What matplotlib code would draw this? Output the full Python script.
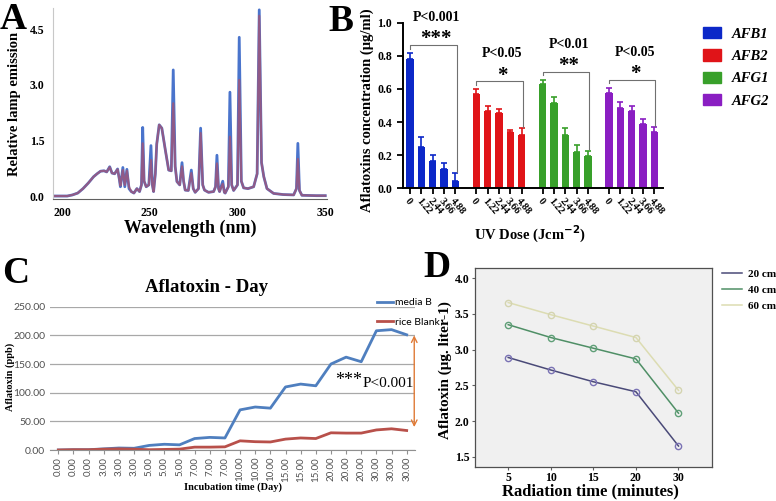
import matplotlib.pyplot as plt
from matplotlib.patches import Patch
from matplotlib.lines import Line2D

SERIF = 'Liberation Serif'
SANS = 'Lato'

# ---- A: lamp spectrum ----
wavelength = [195, 203, 206, 209, 212, 215, 218, 220, 222, 224, 225.5, 227.2, 228.5, 230,
              231.7, 232.7, 233.3, 234.7, 235.8, 237.0, 238.2, 239.5, 241, 242.7, 244.2,
              245.3, 246.0, 246.8, 248, 249.5, 250.7, 251.5, 252.2, 253.2, 254.0, 255.4,
              256.9, 258.9, 260.8, 262.3, 263.4, 264.5, 265.5, 267.1, 268.4, 269.3, 270.2,
              272, 273.7, 274.8, 275.9, 277.8, 279.0, 280.2, 281.2, 283.5, 286.4, 287.5,
              288.3, 289.2, 289.8, 291.6, 292.5, 293.0, 294.8, 295.7, 296.7, 297.8, 300.0,
              301.0, 302.2, 303.5, 306, 309.2, 311.2, 312.4, 313.7, 315, 316.8, 320.6, 326,
              332, 333.6, 334.4, 335.3, 336.7, 345, 350]
emission_red = [0.0, 0.0, 0.03, 0.08, 0.2, 0.35, 0.52, 0.6, 0.67, 0.68, 0.65, 0.78, 0.62, 0.6,
                0.72, 0.45, 0.28, 0.7, 0.3, 0.68, 0.25, 0.12, 0.08, 0.2, 0.12,
                0.3, 1.42, 0.4, 0.25, 0.3, 0.97, 0.3, 0.12, 0.6, 1.4, 1.92,
                1.83, 1.24, 0.7, 0.68, 2.5, 0.8, 0.39, 0.3, 0.8, 0.4, 0.16,
                0.15, 0.62, 0.2, 0.1, 0.2, 1.7, 0.3, 0.16, 0.1, 0.12, 0.25,
                0.88, 0.2, 0.12, 0.33, 0.1, 0.08, 0.25, 1.6, 0.3, 0.15, 0.3,
                3.13, 0.4, 0.22, 0.2, 0.25, 0.6, 4.86, 0.9, 0.52, 0.2, 0.07, 0.04,
                0.03, 0.2, 1.0, 0.15, 0.02, 0.01, 0.01]
emission_blue = [0.0, 0.0, 0.03, 0.08, 0.2, 0.35, 0.52, 0.6, 0.67, 0.68, 0.65, 0.79, 0.62, 0.6,
                 0.73, 0.45, 0.25, 0.77, 0.25, 0.72, 0.2, 0.12, 0.08, 0.2, 0.12,
                 0.3, 1.85, 0.4, 0.25, 0.3, 1.36, 0.3, 0.12, 0.6, 1.4, 1.92,
                 1.83, 1.24, 0.7, 0.68, 3.4, 0.8, 0.39, 0.3, 0.9, 0.4, 0.16,
                 0.15, 0.7, 0.2, 0.1, 0.2, 1.83, 0.3, 0.16, 0.1, 0.12, 0.25,
                 1.1, 0.2, 0.12, 0.4, 0.1, 0.08, 0.25, 2.8, 0.3, 0.15, 0.3,
                 4.28, 0.4, 0.22, 0.2, 0.25, 0.6, 5.02, 0.9, 0.52, 0.2, 0.07, 0.04,
                 0.03, 0.2, 1.42, 0.15, 0.02, 0.01, 0.01]

# ---- B: aflatoxin vs UV dose ----
uv_dose = ['0', '1.22', '2.44', '3.66', '4.88']
toxins = ['AFB1', 'AFB2', 'AFG1', 'AFG2']
toxin_colors = ['#0c28c8', '#e01418', '#38a02a', '#8a1ec2']
conc_mean = [[0.778, 0.247, 0.165, 0.115, 0.046],
             [0.567, 0.466, 0.452, 0.338, 0.322],
             [0.629, 0.513, 0.322, 0.221, 0.197],
             [0.577, 0.487, 0.468, 0.388, 0.342]]
conc_err = [[0.042, 0.061, 0.034, 0.036, 0.044],
            [0.030, 0.030, 0.026, 0.014, 0.040],
            [0.028, 0.036, 0.040, 0.038, 0.030],
            [0.030, 0.034, 0.028, 0.030, 0.026]]
p_labels = ['P<0.001', 'P<0.05', 'P<0.01', 'P<0.05']
stars = ['***', '*', '**', '*']
bracket_y = [0.864, 0.645, 0.703, 0.653]

# ---- C: aflatoxin per day ----
day_labels = ['0.00'] * 3 + ['3.00'] * 3 + ['5.00'] * 3 + ['7.00'] * 3 + \
             ['10.00'] * 3 + ['15.00'] * 3 + ['20.00'] * 3 + ['30.00'] * 3
media_b = [0, 0.5, 0.5, 2, 3.5, 3, 8, 10, 9, 20, 22, 21, 70, 75, 73, 110, 115, 112,
           150, 162, 154, 208, 210, 201]
rice_blank = [0, 0.5, 0.5, 1.5, 2, 1.5, 0.5, 1, 1.5, 5, 5, 5.5, 16, 14.5, 14, 19, 21, 20,
              30, 29.5, 29.5, 35, 37, 34]

# ---- D: aflatoxin vs radiation time ----
rad_time = ['5', '10', '15', '20', '30']
distances = ['20 cm', '40 cm', '60 cm']
dist_colors = ['#4a4a78', '#4f8f66', '#dcdcb2']
marker_colors = ['#7a72b4', '#5f9f77', '#d4d4b0']
aflatoxin_d = [[2.89, 2.715, 2.55, 2.41, 1.65],
               [3.35, 3.17, 3.02, 2.87, 2.11],
               [3.66, 3.49, 3.33, 3.17, 2.43]]

W, H = 776, 501
fig = plt.figure(figsize=(W / 100, H / 100), dpi=100)


def box(x0, y0, x1, y1):
    # pixel box (top-left origin) -> figure fraction
    return [x0 / W, 1 - y1 / H, (x1 - x0) / W, (y1 - y0) / H]


def place_labels(ax, xl, yl):
    ax.xaxis.set_label_coords(*xl)
    ax.yaxis.set_label_coords(*yl)
    ax.xaxis.label.set_va('center')
    ax.yaxis.label.set_va('center')


bold = dict(family=SERIF, fontweight='bold')

# ===== Panel A =====
axA = fig.add_axes(box(53, 8, 327, 199))
axA.plot(wavelength, emission_blue, color='#4a74cc', lw=2.0)
axA.plot(wavelength, emission_red, color='#c04a5a', lw=1.6, alpha=0.6)
axA.set_xlim(194.9, 351)
axA.set_ylim(-0.08, 5.07)
axA.set_xticks([200, 250, 300, 350])
axA.set_yticks([0, 1.5, 3.0, 4.5])
axA.set_yticklabels(['0.0', '1.5', '3.0', '4.5'])
axA.tick_params(length=0, labelsize=8.5, pad=6)
for lab in axA.get_xticklabels() + axA.get_yticklabels():
    lab.set_fontfamily(SERIF)
    lab.set_fontweight('bold')
for s in ['top', 'right']:
    axA.spines[s].set_visible(False)
axA.spines['left'].set_color('#c8c8c8')
axA.spines['bottom'].set_color('#606060')
axA.set_xlabel('Wavelength (nm)', fontsize=13, **bold)
axA.set_ylabel('Relative lamp emission', fontsize=10.5, **bold)
place_labels(axA, (0.5, -0.155), (-0.142, 0.5))

# ===== Panel B =====
axB = fig.add_axes(box(402.7, 22.7, 662.7, 188.3))
group_step = 5.85
positions, labels = [], []
for g, name in enumerate(toxins):
    xs = [g * group_step + j for j in range(len(uv_dose))]
    axB.bar(xs, conc_mean[g], width=0.65, color=toxin_colors[g])
    axB.errorbar(xs, conc_mean[g], yerr=[[0] * len(xs), conc_err[g]], fmt='none',
                 ecolor=toxin_colors[g], elinewidth=1.2, capsize=2.2, capthick=1.2)
    positions += xs
    labels += uv_dose
    # significance bracket
    y = bracket_y[g]
    x0, x1 = xs[0], xs[-1] + 0.1
    drop = conc_mean[g][-1] + conc_err[g][-1] + 0.01
    axB.plot([x0, x0, x1, x1], [y - 0.02, y, y, drop], color='#707070', lw=0.8,
             clip_on=False)
    xm = (xs[0] + xs[-1]) / 2 + 0.3
    axB.text(xm, y + 0.035, stars[g], ha='center', va='center', fontsize=15, **bold)
    axB.text(xm, y + 0.167, p_labels[g], ha='center', va='center', fontsize=10,
             clip_on=False, **bold)
axB.set_xlim(-0.65, 3 * group_step + 4 + 0.74)
axB.set_ylim(0, 1.0)
axB.set_yticks([0, 0.2, 0.4, 0.6, 0.8, 1.0])
axB.set_yticklabels(['0.0', '0.2', '0.4', '0.6', '0.8', '1.0'])
axB.set_xticks(positions)
axB.set_xticklabels(labels, rotation=-50, ha='left', va='top', rotation_mode='anchor')
axB.tick_params(axis='y', labelsize=8.5, width=1.3, length=4)
axB.tick_params(axis='x', labelsize=7.5, width=1.3, length=4, pad=2)
for lab in axB.get_xticklabels() + axB.get_yticklabels():
    lab.set_fontfamily(SERIF)
    lab.set_fontweight('bold')
for s in ['top', 'right']:
    axB.spines[s].set_visible(False)
for s in ['left', 'bottom']:
    axB.spines[s].set_linewidth(1.4)
axB.set_ylabel('Aflatoxins concentration (\u03bcg/ml)', fontsize=10.5, **bold)
axB.set_xlabel('UV Dose (Jcm$^{\\mathbf{-2}}$)', fontsize=10.5, **bold)
place_labels(axB, (0.49, -0.28), (-0.137, 0.47))
handles = [Patch(color=c) for c in toxin_colors]
fig.legend(handles, toxins, loc='upper left', bbox_to_anchor=(703 / W, 1 - 27 / H),
           frameon=False, prop=dict(family=SERIF, weight='bold', style='italic', size=10.5),
           handlelength=1.2, handleheight=0.8, labelspacing=0.6, handletextpad=0.8,
           borderpad=0, borderaxespad=0)

# ===== Panel C =====
axC = fig.add_axes(box(50, 306.7, 415, 450))
xc = list(range(len(day_labels)))
axC.plot(xc, media_b, color='#4f7fbf', lw=2.0, label='media B')
axC.plot(xc, rice_blank, color='#b8504a', lw=2.0, label='rice Blank')
axC.set_xlim(-0.55, len(day_labels) - 0.45)
axC.set_ylim(0, 250)
axC.set_yticks(range(0, 251, 50))
axC.set_yticklabels(['%.2f' % v for v in range(0, 251, 50)])
axC.yaxis.grid(True, color='#a8a8a8', lw=0.9)
axC.set_axisbelow(True)
axC.set_xticks(xc)
axC.set_xticklabels(day_labels, rotation=90)
axC.tick_params(axis='y', length=0, labelsize=7.5, labelcolor='#505050')
axC.tick_params(axis='x', length=3, color='#909090', labelsize=7, labelcolor='#505050',
                pad=2)
for lab in axC.get_xticklabels() + axC.get_yticklabels():
    lab.set_fontfamily(SANS)
for s in ['top', 'right', 'left']:
    axC.spines[s].set_visible(False)
axC.spines['bottom'].set_color('#909090')
axC.set_title('Aflatoxin - Day', fontsize=13.5, x=0.43, y=1.10, pad=0, **bold)
axC.set_xlabel('Incubation time (Day)', fontsize=7.5, **bold)
axC.set_ylabel('Aflatoxin (ppb)', fontsize=7.5, **bold)
place_labels(axC, (0.5, -0.258), (-0.11, 0.51))
axC.legend(loc='upper left', bbox_to_anchor=(377 / W, 1 - 298 / H),
           bbox_transform=fig.transFigure, frameon=False,
           prop=dict(family=SANS, size=7.5), handlelength=1.5, handletextpad=0.2,
           labelspacing=1.0, borderaxespad=0, borderpad=0)
axC.annotate('', xy=(len(day_labels) - 0.5, 40), xytext=(len(day_labels) - 0.5, 200),
             arrowprops=dict(arrowstyle='<->', color='#e07a36', lw=1.0,
                             shrinkA=0, shrinkB=0), annotation_clip=False)
axC.text(19.2, 122, '***', fontsize=13, family=SERIF, ha='center', va='center')
axC.text(21.8, 116, 'P<0.001', fontsize=11, family=SERIF, ha='center', va='center')

# ===== Panel D =====
axD = fig.add_axes(box(475, 268, 711.7, 466.7))
axD.set_facecolor('#f0f0f0')
xd = list(range(len(rad_time)))
for i, d in enumerate(distances):
    axD.plot(xd, aflatoxin_d[i], color=dist_colors[i], lw=1.1, marker='o', ms=4.5,
             mfc='none', mec=marker_colors[i], mew=1.0, label=d)
axD.set_xlim(-0.78, 4.78)
axD.set_ylim(1.36, 4.144)
axD.set_xticks(xd)
axD.set_xticklabels(rad_time)
axD.set_yticks([1.5, 2.0, 2.5, 3.0, 3.5, 4.0])
axD.set_yticklabels(['1.5', '2.0', '2.5', '3.0', '3.5', '4.0'])
axD.tick_params(labelsize=8.5, length=2.5, color='#606060', pad=1.5)
for lab in axD.get_xticklabels() + axD.get_yticklabels():
    lab.set_fontfamily(SERIF)
    lab.set_fontweight('bold')
for s in axD.spines.values():
    s.set_color('#505050')
    s.set_linewidth(0.9)
axD.set_xlabel('Radiation time (minutes)', fontsize=12, **bold)
axD.set_ylabel('Aflatoxin (\u03bcg. liter-1)', fontsize=11, **bold)
place_labels(axD, (0.486, -0.125), (-0.127, 0.487))
dh = [Line2D([], [], color=c, lw=1.1) for c in dist_colors]
fig.legend(dh, distances, loc='upper left', bbox_to_anchor=(722 / W, 1 - 269 / H),
           frameon=False, prop=dict(family=SERIF, weight='bold', size=8),
           handlelength=1.8, handletextpad=0.5, labelspacing=0.55,
           borderpad=0, borderaxespad=0)

# panel letters
for letter, px, py in [('A', 0, 2), ('B', 328, 4), ('C', 2, 256), ('D', 423, 250)]:
    fig.text(px / W, 1 - py / H, letter, fontsize=27, va='top', ha='left', **bold)

fig.savefig('out.png', dpi=100)
